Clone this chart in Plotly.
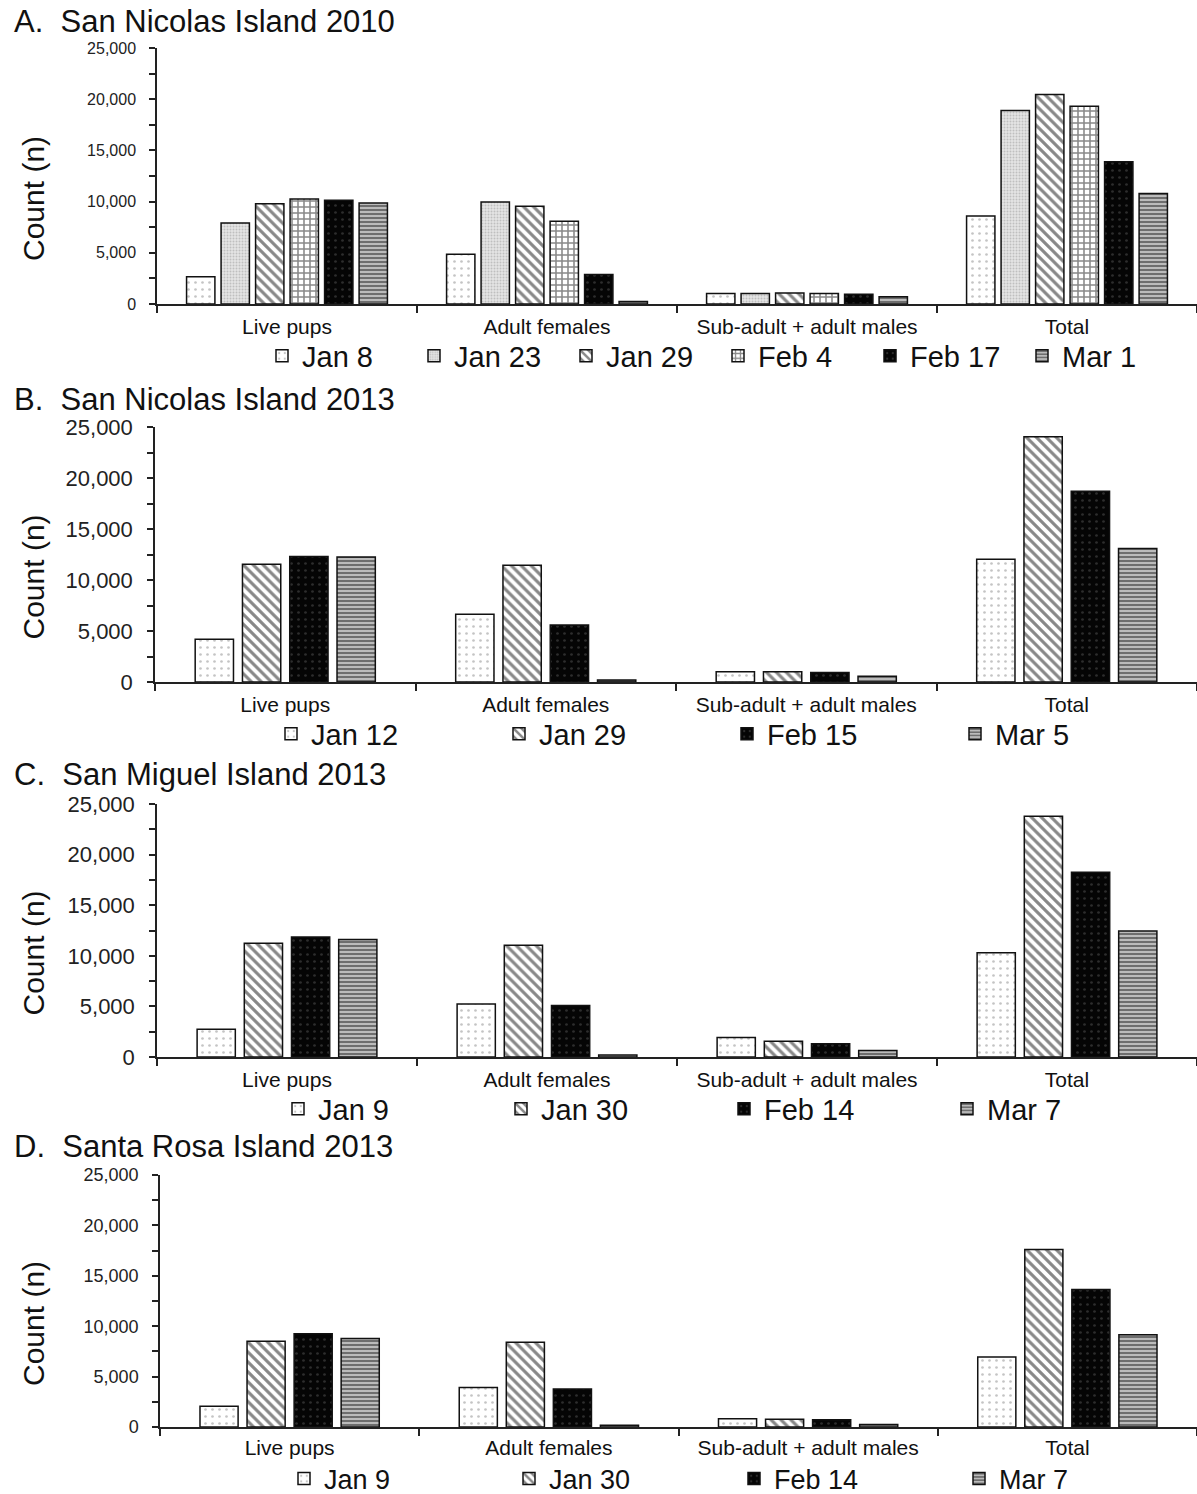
import plotly.graph_objects as go

W, H = 1197, 1494
FONT = "Liberation Sans, Arial, sans-serif"

categories = ["Live pups", "Adult females", "Sub-adult + adult males", "Total"]

# Panel A: San Nicolas Island 2010
a_dates = ["Jan 8", "Jan 23", "Jan 29", "Feb 4", "Feb 17", "Mar 1"]
a_values = [
    [2650, 4870, 1020, 8600],
    [7900, 9950, 1020, 18900],
    [9780, 9550, 1080, 20450],
    [10250, 8070, 1020, 19300],
    [10120, 2870, 940, 13900],
    [9860, 250, 720, 10800],
]

# Panel B: San Nicolas Island 2013
b_dates = ["Jan 12", "Jan 29", "Feb 15", "Mar 5"]
b_values = [
    [4200, 6640, 1000, 12030],
    [11550, 11450, 1000, 24050],
    [12300, 5600, 920, 18700],
    [12250, 200, 560, 13100],
]

# Panel C: San Miguel Island 2013
c_dates = ["Jan 9", "Jan 30", "Feb 14", "Mar 7"]
c_values = [
    [2750, 5240, 1920, 10300],
    [11250, 11050, 1550, 23800],
    [11850, 5080, 1320, 18250],
    [11600, 200, 630, 12450],
]

# Panel D: Santa Rosa Island 2013
d_dates = ["Jan 9", "Jan 30", "Feb 14", "Mar 7"]
d_values = [
    [2050, 3910, 830, 6950],
    [8500, 8400, 760, 17600],
    [9240, 3770, 730, 13650],
    [8780, 170, 240, 9150],
]

panel_titles = [
    "A.\u00a0\u00a0San Nicolas Island 2010",
    "B.\u00a0\u00a0San Nicolas Island 2013",
    "C.\u00a0\u00a0San Miguel Island 2013",
    "D.\u00a0\u00a0Santa Rosa Island 2013",
]

# Styles (fill patterns) keyed by the kind of date
STY = {
    "dots": dict(color="white", pattern=dict(shape=".", fgcolor="#8a8a8a", bgcolor="white", size=7, solidity=0.12)),
    "fine": dict(color="#dcdcdc", pattern=dict(shape=".", fgcolor="#9a9a9a", bgcolor="#e4e4e4", size=3, solidity=0.35)),
    "diag": dict(color="white", pattern=dict(shape="\\", fgcolor="#111", bgcolor="white", size=7, solidity=0.45)),
    "check": dict(color="white", pattern=dict(shape="+", fgcolor="#111", bgcolor="white", size=6, solidity=0.45)),
    "black": dict(color="black", pattern=dict(shape=".", fgcolor="#555", bgcolor="#050505", size=7, solidity=0.12)),
    "horiz": dict(color="white", pattern=dict(shape="-", fgcolor="#222", bgcolor="#bbbbbb", size=4, solidity=0.5)),
}

panels = [
    dict(dates=a_dates, values=a_values, styles=["dots", "fine", "diag", "check", "black", "horiz"],
         top=48, bot=304, left=157, tickfont=16, bw=0.109, pitch=0.1327, catfont=21, standoff=3,
         title_y=22, leg_y=356, leg_x=262, entry=107, legfont=29),
    dict(dates=b_dates, values=b_values, styles=["dots", "diag", "black", "horiz"],
         top=427, bot=682, left=155, tickfont=22, bw=0.147, pitch=0.1815, catfont=21, standoff=3,
         title_y=399, leg_y=734, leg_x=271, entry=183, legfont=29),
    dict(dates=c_dates, values=c_values, styles=["dots", "diag", "black", "horiz"],
         top=804, bot=1057, left=157, tickfont=22, bw=0.147, pitch=0.1815, catfont=21, standoff=3,
         title_y=774, leg_y=1109, leg_x=278, entry=178, legfont=29),
    dict(dates=d_dates, values=d_values, styles=["dots", "diag", "black", "horiz"],
         top=1175, bot=1427, left=160, tickfont=18, bw=0.147, pitch=0.1815, catfont=21, standoff=1,
         title_y=1146, leg_y=1479, leg_x=284, entry=180, legfont=27),
]

fig = go.Figure()
annotations = []
layout_upd = {}

for p_i, p in enumerate(panels):
    k = "" if p_i == 0 else str(p_i + 1)
    xa, ya = "x" + k, "y" + k
    leg = "legend" + k
    n = len(p["dates"])
    for j, (d, vals, st) in enumerate(zip(p["dates"], p["values"], p["styles"])):
        s = STY[st]
        fig.add_trace(go.Bar(
            x=categories, y=vals, name=d, xaxis=xa, yaxis=ya, legend=leg,
            width=p["bw"], offset=(j - (n - 1) / 2) * p["pitch"] - p["bw"] / 2,
            marker=dict(color=s["color"], pattern=s["pattern"],
                        line=dict(color="#111", width=1.5)),
            showlegend=True,
        ))
    dom_y = [1 - p["bot"] / H, 1 - p["top"] / H]
    layout_upd["xaxis" + k] = dict(
        domain=[p["left"] / W, 1], anchor=ya, type="category",
        categoryorder="array", categoryarray=categories, range=[-0.5, 3.5],
        tickson="boundaries", ticks="outside", ticklen=7, tickwidth=1.5, tickcolor="#222",
        showline=True, linecolor="#222", linewidth=1.5, showgrid=False, tickangle=0,
        automargin=False,
        tickfont=dict(family=FONT, size=p["catfont"], color="#111"), ticklabelstandoff=p["standoff"],
    )
    layout_upd["yaxis" + k] = dict(
        domain=dom_y, anchor=xa, range=[0, 25000], dtick=5000, tickformat=",",
        ticks="outside", ticklen=6, tickwidth=1.5, tickcolor="#222", automargin=False,
        minor=dict(dtick=2500, ticks="outside", ticklen=6, tickwidth=1.5, tickcolor="#222", showgrid=False),
        showline=True, linecolor="#222", linewidth=1.5, showgrid=False, zeroline=False,
        tickfont=dict(family=FONT, size=p["tickfont"], color="#222"), ticklabelstandoff=10,
    )
    layout_upd[leg] = dict(
        orientation="h", x=p["leg_x"] / W, xanchor="left", y=1 - p["leg_y"] / H, yanchor="middle",
        font=dict(family=FONT, size=p["legfont"], color="#111"), bgcolor="rgba(0,0,0,0)",
        entrywidth=p["entry"], entrywidthmode="pixels", traceorder="normal",
        itemclick=False, itemdoubleclick=False,
    )
    annotations.append(dict(
        text=panel_titles[p_i], xref="paper", yref="paper", x=12 / W, xanchor="left",
        y=1 - p["title_y"] / H, yanchor="middle", showarrow=False,
        font=dict(family=FONT, size=31, color="#111"),
    ))
    annotations.append(dict(
        text="Count (n)", xref="paper", yref="paper", x=33 / W, xanchor="center",
        y=1 - ((p["top"] + p["bot"]) / 2 + 23) / H, yanchor="middle", showarrow=False,
        textangle=-90, font=dict(family=FONT, size=30, color="#111"),
    ))

fig.update_layout(
    width=W, height=H, margin=dict(l=0, r=0, t=0, b=0, autoexpand=False),
    paper_bgcolor="white", plot_bgcolor="white", barmode="overlay",
    annotations=annotations, **layout_upd,
)

fig.write_html("out.html")
